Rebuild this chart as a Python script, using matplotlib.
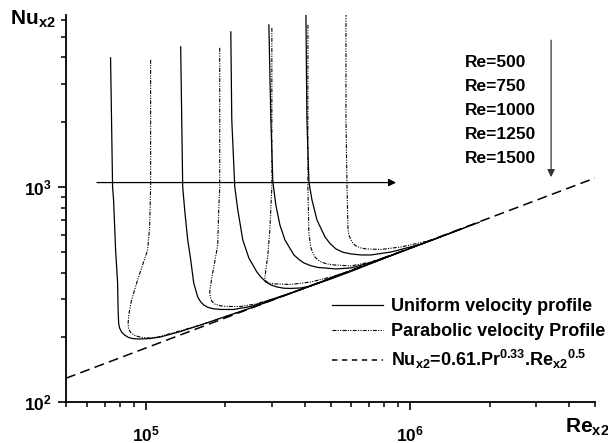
import matplotlib
matplotlib.use('Agg')
import matplotlib.pyplot as plt
from matplotlib.lines import Line2D
from matplotlib.ticker import LogLocator, NullFormatter, LogFormatterSciNotation

plt.rcParams['font.family'] = ['Liberation Sans', 'DejaVu Sans']
plt.rcParams['font.weight'] = 'bold'
plt.rcParams['mathtext.fontset'] = 'custom'
plt.rcParams['mathtext.rm'] = 'Liberation Sans:bold'
plt.rcParams['mathtext.it'] = 'Liberation Sans:bold'
plt.rcParams['mathtext.bf'] = 'Liberation Sans:bold'
plt.rcParams['mathtext.sf'] = 'Liberation Sans:bold'

# ---------------- data ----------------
re_labels = ['Re=500', 'Re=750', 'Re=1000', 'Re=1250', 'Re=1500']

u500_x = [73700, 75000, 75650, 77000, 78350, 78700, 79050, 79700, 81100, 83250, 86200, 90060, 95740,
          104450, 113950, 135700, 161560, 249900, 386500, 597700]
u500_y = [3981, 1000, 870, 509.3, 357.8, 267.9, 233.1, 220.9, 211.6, 204.9, 199.5, 196.8, 196.3,
          197.4, 200.7, 212.8, 228.2, 273.7, 333.3, 408]

p500_x = [104450, 104450, 103560, 101760, 98260, 93260, 88500, 86970, 86200, 85840, 86200, 87770, 90850,
          95740, 102650, 112000, 124350, 161560, 249900, 386500, 597700]
p500_y = [3896, 1000, 651.6, 509.3, 448, 369.4, 298.1, 267.9, 248.5, 230.6, 218.6, 210.5, 203.9,
          200, 198.5, 200.7, 208.3, 228.2, 273.7, 333.3, 408]

u750_x = [135700, 138100, 140500, 144250, 148100, 152000, 154650, 157400, 161560, 165860, 171750, 179400,
          192300, 215400, 249900, 310700, 386500, 597700, 924500]
u750_y = [4480, 1000, 781.6, 567, 457.6, 357.8, 331.9, 307.8, 291.8, 282.6, 275.7, 271.6,
          269.3, 269.3, 278.1, 304.5, 333.3, 408, 499.5]

p750_x = [190600, 190600, 189000, 187330, 182500, 177800, 174740, 175500, 177800, 182500, 190600, 200900,
          229000, 261000, 310700, 386500, 597700, 924500]
p750_y = [4432, 1000, 781.6, 537.4, 448, 377.4, 324.8, 307.8, 294.9, 285.6, 280.5, 278.1,
          278.1, 285.6, 304.5, 333.3, 408, 499.5]

u1000_x = [209900, 211700, 217300, 223100, 233000, 245600, 263300, 272600, 284800, 297500, 313400, 333200,
           354300, 386500, 421700, 502000, 597700, 924500, 1311000]
u1000_y = [5259, 2049, 1000, 781.6, 567, 467.5, 402.5, 381.5, 361.6, 350.2, 342.7, 338,
           337.3, 339.1, 346.4, 373.4, 404.6, 499.5, 587.4]

p1000_x = [300100, 300100, 294900, 289800, 284800, 282300, 283600, 287300, 297500, 310700, 333200, 354300,
           421700, 502000, 597700, 924500, 1311000]
p1000_y = [5489, 1000, 631, 482.7, 411.2, 377.4, 367.4, 361.6, 355.9, 353.9, 352.8, 352,
           361.6, 381.5, 406.8, 499.5, 587.4]

u1250_x = [292400, 297500, 302700, 310700, 321800, 336200, 363700, 379800, 396600, 421700, 448300, 524400,
           597700, 711700, 924500, 1560800]
u1250_y = [5669, 2049, 1055, 824.7, 665.6, 567, 482.7, 460, 443.1, 430.1, 422.3, 415.6,
           420.1, 445.6, 499.5, 637]

p1250_x = [410700, 410700, 414300, 418000, 421700, 429200, 436800, 448300, 460200, 484800, 515300, 597700,
           711700, 924500, 1560800]
p1250_y = [5669, 1000, 611, 560.9, 520.3, 493.2, 472.5, 457.6, 448, 438.5, 433.8, 429.2,
           448, 499.5, 637]

u1500_x = [403600, 407200, 414300, 425500, 444400, 476400, 497700, 524400, 557300, 597700, 652000, 711700,
           847500, 1101000, 1825000]
u1500_y = [6448, 2049, 1055, 870, 702.3, 585.5, 546.1, 514.7, 496.8, 488, 482.7, 482.7,
           498.4, 542, 685]

p1500_x = [572100, 572100, 577200, 582300, 587400, 597700, 608300, 624600, 652000, 681300, 776800, 924500,
           1200400, 1825000]
p1500_y = [6448, 2049, 1000, 631, 595, 567, 546.1, 531.6, 520.3, 514.7, 512, 526,
           564.5, 685]

ref_x = [5.0e4, 5.0e6]
ref_y = [129, 1100]

uniform_x = [u500_x, u750_x, u1000_x, u1250_x, u1500_x]
uniform_y = [u500_y, u750_y, u1000_y, u1250_y, u1500_y]
parab_x = [p500_x, p750_x, p1000_x, p1250_x, p1500_x]
parab_y = [p500_y, p750_y, p1000_y, p1250_y, p1500_y]

# ---------------- figure ----------------
fig = plt.figure(figsize=(6.08, 4.43), dpi=100)
ax = fig.add_axes([66/608, 1-402/443, 529/608, 387/443])

ax.set_xscale('log')
ax.set_yscale('log')
ax.set_xlim(5e4, 5e6)
ax.set_ylim(100, 6300)

dashdot = (0, (3.5, 1.2, 1.0, 1.2, 1.0, 1.2))
for xs, ys in zip(uniform_x, uniform_y):
    ax.plot(xs, ys, color='black', lw=0.9, solid_joinstyle='round')
for xs, ys in zip(parab_x, parab_y):
    ax.plot(xs, ys, color='black', lw=0.8, linestyle=dashdot)
ax.plot(ref_x, ref_y, color='black', lw=1.1, linestyle=(0, (6.5, 3.5)))

# arrows
ax.annotate('', xy=(0.624, 0.567), xytext=(0.0586, 0.567), xycoords='axes fraction',
            arrowprops=dict(arrowstyle='-|>', color='black', lw=0.9, mutation_scale=11,
                            shrinkA=0, shrinkB=0))
ax.annotate('', xy=(0.917, 0.581), xytext=(0.917, 0.935), xycoords='axes fraction',
            arrowprops=dict(arrowstyle='-|>', color='#333333', lw=0.9, mutation_scale=11,
                            shrinkA=0, shrinkB=0))
for i, lab in enumerate(re_labels):
    ax.text(0.754, 0.876 - i*0.0614, lab, transform=ax.transAxes, fontsize=12.5,
            fontweight='bold', va='center', ha='left')

# legend
handles = [Line2D([], [], color='black', lw=0.9),
           Line2D([], [], color='black', lw=0.8, linestyle=dashdot),
           Line2D([], [], color='black', lw=1.1, linestyle=(0, (3.5, 3)))]
labels = ['Uniform velocity profile', 'Parabolic velocity Profile',
          r'Nu$_{x2}$=0.61.Pr$^{0.33}$.Re$_{x2}{}^{0.5}$']
leg = ax.legend(handles, labels, loc='lower right', bbox_to_anchor=(1.019, 0.079),
                frameon=False, fontsize=13, handlelength=2.8, handletextpad=0.45,
                labelspacing=0.45, borderpad=0, borderaxespad=0)

# spines and ticks
for s in ['top', 'right']:
    ax.spines[s].set_visible(False)
for s in ['left', 'bottom']:
    ax.spines[s].set_linewidth(1.3)
ax.xaxis.set_major_locator(LogLocator(base=10, numticks=10))
ax.xaxis.set_minor_locator(LogLocator(base=10, subs=range(2, 10), numticks=20))
ax.yaxis.set_major_locator(LogLocator(base=10, numticks=10))
ax.yaxis.set_minor_locator(LogLocator(base=10, subs=range(2, 10), numticks=20))
ax.xaxis.set_major_formatter(LogFormatterSciNotation())
ax.yaxis.set_major_formatter(LogFormatterSciNotation())
ax.xaxis.set_minor_formatter(NullFormatter())
ax.yaxis.set_minor_formatter(NullFormatter())
ax.tick_params(which='major', direction='out', length=6, width=1.2, labelsize=12.5, pad=10)
ax.tick_params(which='minor', direction='out', length=3.5, width=1.1)
ax.tick_params(axis='y', which='major', pad=4)

fig.text(10/608, 1-25/443, r'Nu$_{x2}$', fontsize=15, fontweight='bold', ha='left', va='baseline')
fig.text(565/608, 1-433/443, r'Re$_{x2}$', fontsize=15, fontweight='bold', ha='left', va='baseline')

fig.savefig('out.png', dpi=100)
